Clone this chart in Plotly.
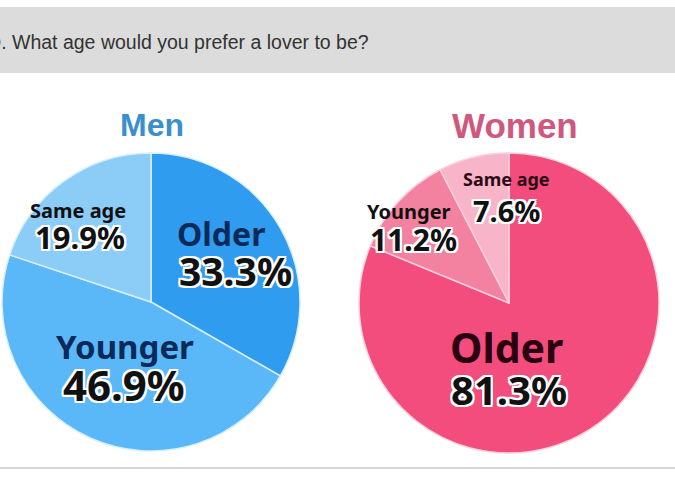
import plotly.graph_objects as go

W, H = 675, 479

question = "Q. What age would you prefer a lover to be?"

men_labels = ["Older", "Younger", "Same age"]
men_values = [33.3, 46.9, 19.9]
men_colors = ["#2f9cf0", "#5ab8f8", "#8ccdf8"]

women_labels = ["Older", "Younger", "Same age"]
women_values = [81.3, 11.2, 7.6]
women_colors = ["#f24d7c", "#f2829f", "#f8b4c8"]


def px(x, y):
    # pixel position (from top left) -> paper coords
    return x / W, 1 - y / H


outline = "-2px -2px 0 #fff, 2px -2px 0 #fff, -2px 2px 0 #fff, 2px 2px 0 #fff, 0 2px 0 #fff, 0 -2px 0 #fff, 2px 0 0 #fff, -2px 0 0 #fff"

fig = go.Figure()

fig.add_trace(go.Pie(
    labels=men_labels, values=men_values, sort=False, direction="clockwise",
    marker=dict(colors=men_colors, line=dict(color="#d8efff", width=1.5)),
    textinfo="none", showlegend=False,
    domain=dict(x=[2 / W, 300 / W], y=[1 - 451 / H, 1 - 153 / H]),
))
fig.add_trace(go.Pie(
    labels=women_labels, values=women_values, sort=False, direction="clockwise",
    marker=dict(colors=women_colors, line=dict(color="#fbd0dc", width=1.5)),
    textinfo="none", showlegend=False,
    domain=dict(x=[359 / W, 659 / W], y=[1 - 453 / H, 1 - 153 / H]),
))

ann = []


def label(text, x, y, size, color="#111", stroke=False):
    xp, yp = px(x, y)
    f = dict(family="Noto Sans", size=size, color=color)
    if stroke:
        f["shadow"] = outline
    ann.append(dict(text="<b>%s</b>" % text, x=xp, y=yp, xref="paper", yref="paper",
                    xanchor="center", yanchor="middle", showarrow=False, font=f))


# men
label(men_labels[2], 78, 210, 20, "#111")
label("%.1f%%" % men_values[2], 80, 237, 31, "#111", True)
label(men_labels[0], 221, 233, 32, "#0b2a5a")
label("%.1f%%" % men_values[0], 235, 270, 39, "#111", True)
label(men_labels[1], 125, 346, 33, "#0b2a5a")
label("%.1f%%" % men_values[1], 124, 384, 42, "#111", True)

# women
label(women_labels[2], 506, 179, 18, "#2a0a14")
label("%.1f%%" % women_values[2], 507, 210, 29, "#111", True)
label(women_labels[1], 409, 211, 20, "#111")
label("%.1f%%" % women_values[1], 413, 239, 30, "#111", True)
label(women_labels[0], 506, 347, 41, "#2a0010")
label("%.1f%%" % women_values[0], 509, 389, 40, "#111", True)

# group titles
for t, x, c, s in [("Men", 152, "#3b8fcb", 32), ("Women", 515, "#d0587f", 35)]:
    xp, yp = px(x, 125)
    ann.append(dict(text="<b>%s</b>" % t, x=xp, y=yp, xref="paper", yref="paper",
                    xanchor="center", yanchor="middle", showarrow=False,
                    font=dict(family="Arial", size=s, color=c)))

# question in the header bar (left edge cropped like the source image)
xp, yp = px(-16, 42)
ann.append(dict(text=question, x=xp, y=yp, xref="paper", yref="paper",
                xanchor="left", yanchor="middle", showarrow=False,
                font=dict(family="Arial", size=19.5, color="#333")))

fig.update_layout(
    width=W, height=H,
    margin=dict(t=0, l=0, r=0, b=0),
    paper_bgcolor="white",
    annotations=ann,
    shapes=[
        dict(type="rect", xref="paper", yref="paper", x0=0, x1=1,
             y0=1 - 73 / H, y1=1 - 7 / H, fillcolor="#dcdcdc", line=dict(width=0), layer="below"),
        dict(type="line", xref="paper", yref="paper", x0=0, x1=1,
             y0=1 - 468 / H, y1=1 - 468 / H, line=dict(color="#d6d6d6", width=2)),
    ],
)

fig.write_html("out.html", config=dict(displayModeBar=False),
               post_script="document.body.style.margin='0';")
